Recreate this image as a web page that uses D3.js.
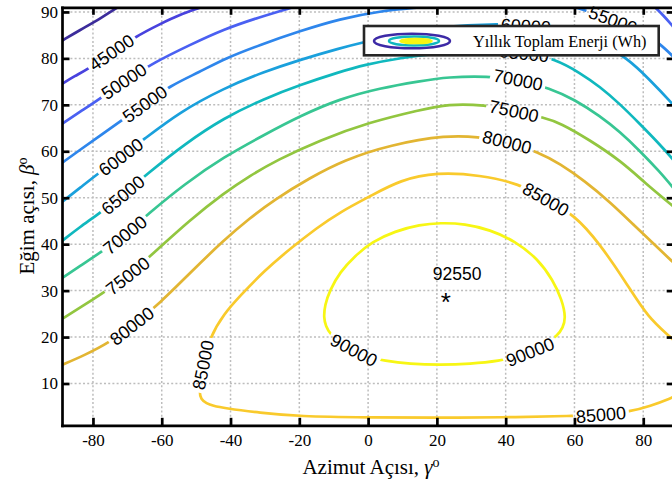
<!DOCTYPE html>
<html>
<head>
<meta charset="utf-8">
<script src="https://cdn.jsdelivr.net/npm/d3@7"></script>
<style>
  body { margin: 0; background: #fff; }
  .svg-frame { width: 672px; height: 482px; overflow: hidden; }
  .axis-label, .legend-label { font-family: "Liberation Serif", "Times New Roman", serif; fill: #000; }
  .clabel, .peak-label { font-family: "Liberation Sans", Arial, sans-serif; fill: #000; }
</style>
</head>
<body>
<div class="svg-frame"></div>
<script>
// contour levels, yearly energy (Wh)
const levels = [40000, 45000, 50000, 55000, 60000, 65000, 70000, 75000, 80000, 85000, 90000]
const xTicks = [-80, -60, -40, -20, 0, 20, 40, 60, 80]
const yTicks = [10, 20, 30, 40, 50, 60, 70, 80, 90]
const azimuthRange = [-89, 89]
const tiltRange = [1, 91]
const peakPoint = [22.6, 28.8]
const peakValue = 92550
const legendText = "Yıllık Toplam Enerji (Wh)"

// contour traces, [azimuth, tilt]
const c40000 = [[-89.0,83.8],[-83.8,86.1],[-78.0,88.5],[-72.8,91.0]]
const c45000 = [[-89.0,74.5],[-85.3,76.2],[-81.5,77.7],[-74.5,81.2],[-67.8,84.6],[-60.5,87.4],[-54.7,89.4],[-48.9,90.9],[-48.4,91.1]]
const c50000a = [[-89.0,65.9],[-83.8,68.5],[-78.0,71.3],[-71.0,75.1],[-62.0,79.2],[-51.8,82.9],[-41.9,86.3],[-31.5,88.9],[-21.9,91.0]]
const c50000b = [[83.4,91.0],[85.7,89.4],[88.3,87.2],[90.7,85.0]]
const c55000a = [[-89.0,57.5],[-83.8,60.3],[-78.0,63.3],[-71.6,66.7],[-64.9,70.2],[-57.6,74.1],[-48.9,77.1],[-41.9,79.9],[-31.5,82.9],[-19.8,85.9],[-8.2,88.5],[3.4,90.2],[15.1,91.0]]
const c55000b = [[60.1,91.0],[64.5,90.0],[71.2,88.3],[76.1,86.8],[80.5,85.3],[84.9,83.1],[88.3,80.7],[92.1,77.9]]
const c60000 = [[-89.0,49.1],[-83.8,52.1],[-78.0,55.5],[-71.9,58.8],[-65.5,62.4],[-54.7,68.5],[-41.9,73.6],[-30.3,77.1],[-19.8,79.7],[-8.2,82.2],[-1.2,83.5],[9.3,85.3],[23.2,87.0],[35.7,87.4],[45.9,87.2],[54.3,86.6],[61.6,85.0],[67.4,83.5],[75.3,80.1],[81.9,75.4],[88.3,70.4],[92.1,67.2]]
const c65000 = [[-89.0,40.7],[-83.8,43.7],[-78.0,46.7],[-71.3,50.6],[-64.3,55.1],[-53.3,61.6],[-41.9,67.2],[-30.3,71.3],[-19.8,74.3],[-8.2,77.1],[-1.2,78.6],[9.3,80.1],[20.9,81.2],[32.5,81.6],[45.3,81.4],[54.3,79.9],[61.6,76.9],[67.4,73.9],[73.2,70.2],[79.0,65.9],[84.9,61.4],[88.3,58.6],[92.1,55.1]]
const c70000 = [[-89.0,32.7],[-83.8,35.3],[-78.0,38.1],[-70.7,42.0],[-64.3,46.3],[-53.3,53.0],[-41.9,58.8],[-30.3,63.5],[-19.8,67.6],[-8.2,71.3],[3.4,73.6],[15.1,75.1],[23.2,76.0],[34.8,76.2],[43.6,75.4],[52.9,73.6],[60.1,71.1],[67.4,67.6],[73.2,64.2],[79.0,60.1],[84.9,55.5],[88.3,52.5],[92.1,49.1]]
const c75000 = [[-89.0,23.9],[-83.8,26.3],[-77.1,29.5],[-69.9,33.2],[-62.9,37.7],[-51.8,45.2],[-41.9,51.0],[-34.4,54.7],[-26.5,58.1],[-14.0,62.4],[0.5,66.3],[15.1,68.9],[23.2,70.2],[34.0,70.0],[42.4,68.7],[51.4,67.2],[55.8,66.1],[64.5,62.4],[73.5,57.9],[80.5,53.2],[88.3,48.4],[92.1,46.1]]
const c80000 = [[-89.0,14.0],[-82.4,16.1],[-75.1,18.9],[-68.7,22.4],[-60.5,27.3],[-51.8,33.8],[-41.9,40.9],[-34.4,45.6],[-27.4,49.5],[-16.9,54.3],[-7.0,58.1],[6.3,61.4],[23.2,63.5],[31.9,63.1],[40.4,62.0],[49.4,59.9],[55.8,57.3],[63.0,53.6],[70.3,49.1],[77.6,43.9],[83.4,39.8],[88.3,36.4],[92.1,33.6]]
const c85000 = [[90.5,18.0],[88.3,19.8],[81.4,24.1],[74.7,32.1],[67.4,40.0],[60.1,46.3],[51.7,49.7],[44.1,53.0],[32.5,54.9],[20.0,55.5],[9.3,53.8],[0.8,50.4],[-8.2,46.9],[-14.9,43.5],[-22.7,39.0],[-30.3,34.2],[-37.3,28.8],[-41.9,25.0],[-46.0,20.0],[-48.0,14.0],[-49.2,8.2],[-48.6,6.6],[-47.0,5.7],[-45.1,5.2],[-41.9,4.7],[-31.5,3.7],[-20.1,2.9],[-0.1,2.7],[20.0,2.6],[38.3,2.7],[60.1,3.0],[67.7,3.3],[76.4,4.0],[81.9,5.1],[88.3,6.9],[90.5,7.7]]
const c90000 = [[-12.9,24.1],[-12.6,26.9],[-11.1,30.1],[-8.2,34.0],[-3.8,37.5],[1.1,40.5],[7.8,42.8],[15.1,44.2],[20.9,44.6],[28.2,44.4],[35.4,43.1],[42.7,40.7],[49.4,36.8],[53.7,32.3],[56.4,28.0],[57.5,24.1],[56.6,22.0],[55.2,20.4],[51.4,18.3],[47.1,16.8],[42.7,15.7],[38.6,14.9],[29.6,14.2],[20.9,14.0],[12.2,14.2],[4.6,14.9],[-0.1,15.7],[-4.1,17.2],[-8.2,18.9],[-11.1,20.7],[-12.3,22.4]]

// inline label spots [level, azimuth, tilt]
const labelSpots = [
  [45000,-74.6,81.3],[50000,-71.0,75.1],[55000,-64.9,70.2],[60000,-71.9,58.8],
  [65000,-71.3,50.6],[70000,-70.7,42.0],[75000,-69.9,33.2],[80000,-68.7,22.4],
  [85000,-48.0,14.0],[90000,-4.1,17.2],[90000,47.1,16.8],[85000,67.7,3.3],
  [85000,51.7,49.7],[80000,40.4,62.0],[75000,42.4,68.7],[70000,43.6,75.4],
  [65000,45.3,81.1],[60000,45.9,87.0],[55000,71.2,88.3]
]

const contourSegments = [
  {level: 40000, pts: c40000}, {level: 45000, pts: c45000},
  {level: 50000, pts: c50000a}, {level: 50000, pts: c50000b},
  {level: 55000, pts: c55000a}, {level: 55000, pts: c55000b},
  {level: 60000, pts: c60000}, {level: 65000, pts: c65000},
  {level: 70000, pts: c70000}, {level: 75000, pts: c75000},
  {level: 80000, pts: c80000}, {level: 85000, pts: c85000},
  {level: 90000, pts: c90000, closed: true}
]

function drawViz() {
  const frameWidth = 672
  const frameHeight = 482
  const serif = "'Liberation Serif', 'Times New Roman', serif"
  const svg = d3.select(".svg-frame")
    .append("svg")
    .attr("width", frameWidth)
    .attr("height", frameHeight)

  //plot box, the right edge sits just outside the window
  const box = {left: 62, right: 674.2, top: 7.3, bottom: 425.3}
  const xScale = d3.scaleLinear(azimuthRange, [box.left, box.right])
  const yScale = d3.scaleLinear(tiltRange, [box.bottom, box.top])
  const color = d3.scaleOrdinal(levels, ["#3c2c9b", "#4842de", "#4a60f2", "#2e86ec", "#1aa0dc", "#10b8be", "#38c693", "#92c640", "#e2b532", "#f9ca2c", "#f7f614"])

  const defs = svg.append("defs")
  defs.append("clipPath").attr("id", "plot-clip")
    .append("rect")
      .attr("x", box.left).attr("y", box.top)
      .attr("width", box.right - box.left).attr("height", box.bottom - box.top)
  const mask = defs.append("mask")
    .attr("id", "label-gaps")
    .attr("maskUnits", "userSpaceOnUse")
    .attr("x", 0).attr("y", 0).attr("width", 720).attr("height", frameHeight)
  mask.append("rect").attr("width", 720).attr("height", frameHeight).attr("fill", "white")

  //dotted grid
  const grid = svg.append("g").attr("stroke", "#bdbdbd").attr("stroke-width", 1.5).attr("stroke-dasharray", "2,2.2")
  grid.selectAll("line.vgrid").data(xTicks).join("line")
    .attr("class", "vgrid")
    .attr("x1", d => xScale(d)).attr("x2", d => xScale(d))
    .attr("y1", box.top).attr("y2", box.bottom)
  grid.selectAll("line.hgrid").data(yTicks).join("line")
    .attr("class", "hgrid")
    .attr("x1", box.left).attr("x2", box.right)
    .attr("y1", d => yScale(d)).attr("y2", d => yScale(d))

  //contours
  const openLine = d3.line().x(d => xScale(d[0])).y(d => yScale(d[1])).curve(d3.curveBasis)
  const closedLine = d3.line().x(d => xScale(d[0])).y(d => yScale(d[1])).curve(d3.curveBasisClosed)
  svg.append("g")
    .attr("clip-path", "url(#plot-clip)")
    .append("g")
    .attr("mask", "url(#label-gaps)")
    .selectAll("path.contour")
    .data(contourSegments)
    .join("path")
      .attr("class", "contour")
      .attr("d", d => d.closed ? closedLine(d.pts) : openLine(d.pts))
      .attr("fill", "none")
      .attr("stroke", d => color(d.level))
      .attr("stroke-width", 2.7)

  //label angle follows the trace near the spot
  function labelAngle(level, gx, gy) {
    let best = null
    contourSegments.filter(s => s.level === level).forEach(s => {
      s.pts.forEach((p, i) => {
        const dist = Math.hypot(xScale(p[0]) - xScale(gx), yScale(p[1]) - yScale(gy))
        if (!best || dist < best.dist) best = {dist, seg: s, i}
      })
    })
    const pts = best.seg.pts
    const n = pts.length
    let a, b
    if (best.seg.closed) {
      a = pts[(best.i - 1 + n) % n]
      b = pts[(best.i + 1) % n]
    } else {
      a = pts[Math.max(best.i - 1, 0)]
      b = pts[Math.min(best.i + 1, n - 1)]
    }
    let ang = Math.atan2(yScale(b[1]) - yScale(a[1]), xScale(b[0]) - xScale(a[0])) * 180 / Math.PI
    if (ang > 90) ang -= 180
    if (ang < -90) ang += 180
    return ang
  }

  const labels = svg.append("g")
  labelSpots.forEach(([level, gx, gy]) => {
    const px = xScale(gx)
    const py = yScale(gy)
    const ang = labelAngle(level, gx, gy)
    const t = labels.append("text")
      .attr("class", "clabel")
      .attr("font-size", 18)
      .attr("text-anchor", "middle")
      .attr("dy", "0.36em")
      .attr("transform", `translate(${px},${py}) rotate(${ang})`)
      .text(level)
    const w = t.node().getComputedTextLength() + 6
    mask.append("rect")
      .attr("x", -w / 2).attr("y", -8).attr("width", w).attr("height", 16)
      .attr("transform", `translate(${px},${py}) rotate(${ang})`)
      .attr("fill", "black")
  })

  //peak marker and value
  svg.append("text")
    .attr("class", "peak-label")
    .attr("x", xScale(peakPoint[0]))
    .attr("y", yScale(peakPoint[1]))
    .attr("dy", "0.58em")
    .attr("text-anchor", "middle")
    .attr("font-size", 26)
    .text("*")
  svg.append("text")
    .attr("class", "peak-label")
    .attr("x", xScale(peakPoint[0]) - 13)
    .attr("y", yScale(peakPoint[1]) - 16)
    .attr("font-size", 17.5)
    .text(peakValue)

  //axes, ticks point inwards
  const styleAxis = g => {
    g.attr("font-family", null)
    g.select(".domain").attr("stroke", "#000").attr("stroke-width", 2.7).attr("stroke-linecap", "square")
    g.selectAll(".tick line").attr("stroke", "#000").attr("stroke-width", 2.7)
    g.selectAll(".tick text")
      .style("font-family", serif)
      .style("font-size", "17px")
      .attr("fill", "#000")
  }
  svg.append("g")
    .attr("transform", `translate(0,${box.bottom})`)
    .call(d3.axisBottom(xScale).tickValues(xTicks).tickSizeInner(-7.5).tickSizeOuter(0).tickPadding(8.5).tickFormat(d => d))
    .call(styleAxis)
  svg.append("g")
    .attr("transform", `translate(0,${box.top})`)
    .call(d3.axisTop(xScale).tickValues(xTicks).tickSizeInner(-7.5).tickSizeOuter(0).tickFormat(""))
    .call(styleAxis)
  svg.append("g")
    .attr("transform", `translate(${box.left},0)`)
    .call(d3.axisLeft(yScale).tickValues(yTicks).tickSizeInner(-7.5).tickSizeOuter(0).tickPadding(4))
    .call(styleAxis)
  svg.append("g")
    .attr("transform", `translate(${box.right},0)`)
    .call(d3.axisRight(yScale).tickValues(yTicks).tickSizeInner(-7.5).tickSizeOuter(0).tickFormat(""))
    .call(styleAxis)

  //axis titles
  const xLabel = svg.append("text")
    .attr("class", "axis-label")
    .attr("x", 371).attr("y", 474)
    .attr("text-anchor", "middle")
    .attr("font-size", 21)
  xLabel.append("tspan").text("Azimut Açısı, ")
  xLabel.append("tspan").attr("font-style", "italic").text("γ")
  xLabel.append("tspan").attr("baseline-shift", "super").attr("font-size", 14).text("o")

  const yLabel = svg.append("text")
    .attr("class", "axis-label")
    .attr("transform", "translate(33.5,216) rotate(-90)")
    .attr("text-anchor", "middle")
    .attr("font-size", 21)
  yLabel.append("tspan").text("Eğim açısı, ")
  yLabel.append("tspan").attr("font-style", "italic").text("β")
  yLabel.append("tspan").attr("baseline-shift", "super").attr("font-size", 14).text("o")

  //legend
  const legend = svg.append("g")
  legend.append("rect")
    .attr("x", 364).attr("y", 26).attr("width", 294.7).attr("height", 29.3)
    .attr("fill", "#fff").attr("stroke", "#262626").attr("stroke-width", 2.6)
  legend.append("ellipse")
    .attr("cx", 412).attr("cy", 41).attr("rx", 38).attr("ry", 7.3)
    .attr("fill", "none").attr("stroke", "#3d2aa6").attr("stroke-width", 2.6)
  legend.append("ellipse")
    .attr("cx", 414).attr("cy", 41).attr("rx", 25).attr("ry", 4.5)
    .attr("fill", "none").attr("stroke", color(65000)).attr("stroke-width", 2.6)
  legend.append("ellipse")
    .attr("cx", 416).attr("cy", 41).attr("rx", 16).attr("ry", 2.6)
    .attr("fill", color(90000)).attr("stroke", color(90000)).attr("stroke-width", 1.5)
  legend.append("text")
    .attr("class", "legend-label")
    .attr("x", 473).attr("y", 47)
    .attr("font-size", 16.3)
    .text(legendText)
}

drawViz()
</script>
</body>
</html>
